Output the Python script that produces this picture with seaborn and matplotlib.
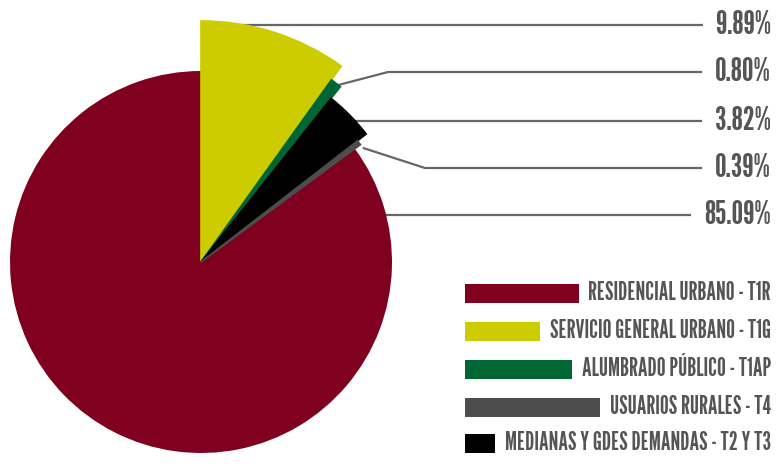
import numpy as np
import matplotlib
matplotlib.use("Agg")
import matplotlib.pyplot as plt
import seaborn as sns
from matplotlib.patches import Rectangle

# ---- data ----
categories = ["RESIDENCIAL URBANO - T1R",
              "SERVICIO GENERAL URBANO - T1G",
              "ALUMBRADO PÚBLICO - T1AP",
              "USUARIOS RURALES - T4",
              "MEDIANAS Y GDES DEMANDAS - T2 Y T3"]
shares = [85.09, 9.89, 0.80, 0.39, 3.82]
pct_labels = ["85.09%", "9.89%", "0.80%", "0.39%", "3.82%"]
colors = ["#80001f", "#cccc00", "#006633", "#4d4d4d", "#000000"]

# order of slices clockwise from 12 o'clock
pie_order = [1, 2, 4, 3, 0]
# styling / layout (pixels)
slice_radius = {0: 191, 1: 241, 2: 224, 3: 198, 4: 209}
anchor_angle = {1: 81.4, 2: 52.2, 4: 42.7, 3: 35.2, 0: 14.2}
label_row_y = {1: 25, 2: 72, 4: 121, 3: 168, 0: 215}
elbow_x = {1: None, 2: 388, 4: None, 3: 425, 0: None}

W, H = 781, 470
sns.set_theme(style="white")
plt.rcParams['font.family'] = ['League Gothic', 'Oswald', 'Bebas Neue', 'DejaVu Sans']
text_color = "#555555"
line_color = "#666666"

fig = plt.figure(figsize=(W / 100, H / 100), dpi=100)
ax = fig.add_axes([0, 0, 1, 1])
cx, cy = 201, H - 262

vals = [shares[i] for i in pie_order]
cols = [colors[i] for i in pie_order]
wedges, _ = ax.pie(vals, colors=cols, startangle=90, counterclock=False,
                   center=(cx, cy), radius=191,
                   wedgeprops=dict(linewidth=0, antialiased=True))
for w, i in zip(wedges, pie_order):
    w.set_radius(slice_radius[i])
    if i != 0:
        w.set_edgecolor(colors[i])
        w.set_linewidth(1.2)
        w.set_zorder(3)
    else:
        w.set_zorder(2)

ax.set_xlim(0, W)
ax.set_ylim(0, H)
ax.set_aspect('equal')
ax.axis('off')

fig.canvas.draw()
renderer = fig.canvas.get_renderer()

# percentage labels with leader lines
for i in pie_order:
    yrow = H - label_row_y[i]
    t = ax.text(771, yrow, pct_labels[i], ha='right', va='center',
                fontsize=23.5, color=text_color)
    bb = t.get_window_extent(renderer)
    x_end = bb.x0 - 13
    a = np.deg2rad(anchor_angle[i])
    r = slice_radius[i]
    sx, sy = cx + r * np.cos(a), cy + r * np.sin(a)
    if elbow_x[i] is None:
        xs, ys = [sx, x_end], [yrow, yrow]
    else:
        xs, ys = [sx, elbow_x[i], x_end], [sy, yrow, yrow]
    ax.plot(xs, ys, color=line_color, lw=1.6, solid_capstyle='butt', zorder=1)

# legend with bars filling up to the text
legend_y = [293, 331, 369, 407, 443]
for k, i in enumerate(range(len(categories))):
    yc = H - legend_y[k]
    t = ax.text(771, yc, categories[i], ha='right', va='center',
                fontsize=17.8, color=text_color)
    bb = t.get_window_extent(renderer)
    x_right = bb.x0 - 10
    ax.add_patch(Rectangle((465, yc - 9.5), x_right - 465, 19,
                           facecolor=colors[i], edgecolor='none'))

fig.savefig("out.png", dpi=100)
